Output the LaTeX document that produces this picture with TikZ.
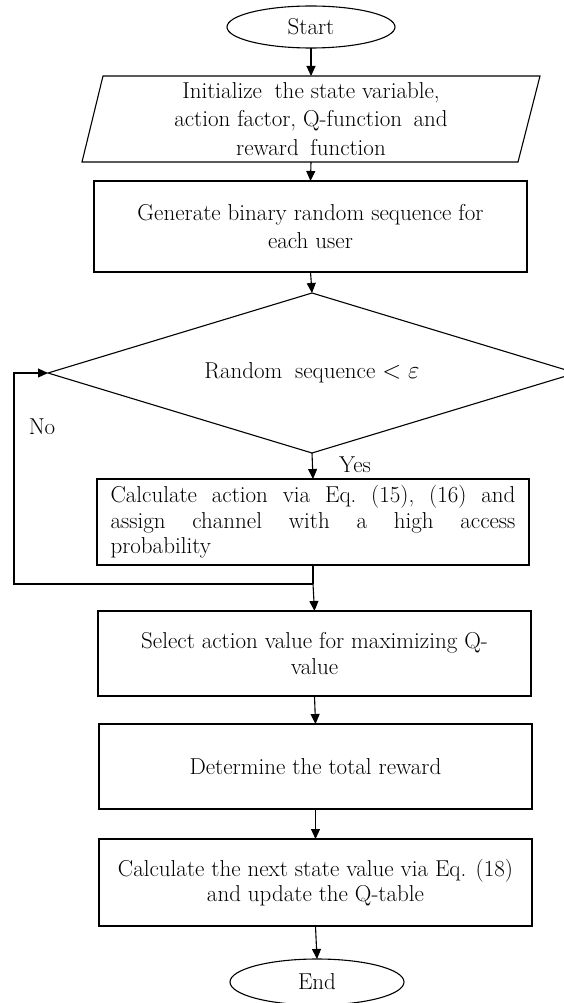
\documentclass[tikz,border=0pt]{standalone}
\usepackage{fontspec}
\usetikzlibrary{shapes.geometric,arrows.meta}
\newcommand\myfs{\fontsize{23}{25.5}\selectfont}
\newcommand\myfsw{\fontsize{23}{28.5}\selectfont}
\tikzset{
  ln/.style={line width=1.1pt},
  arr/.style={ln,-{Triangle[length=10pt,width=9pt]}},
  box/.style={draw,ln,rectangle,inner sep=0pt,outer sep=0pt,align=center,font=\myfs},
  term/.style={draw,ln,ellipse,inner sep=0pt,outer sep=0pt,font=\myfs},
  lbl/.style={inner sep=0pt,font=\myfs},
}
\begin{document}
\begin{tikzpicture}[x=1pt,y=-1pt]
\useasboundingbox (0,0) rectangle (564,1003);
\clip (0,0) rectangle (564,1003);
% terminals
\node[term,minimum width=168pt,minimum height=42pt] (start) at (311,27) {Start};
% parallelogram (input)
\node[lbl,align=center,font=\myfsw] (init) at (311,119)
  {Initialize\hspace{0.25em} the state variable,\\action factor, Q-function\hspace{0.2em} and\\reward\hspace{0.2em} function};
\coordinate (initN) at (311,76);
\coordinate (initS) at (311,162);
\draw[ln] (103,76) -- (540,76) -- (518,162) -- (82,162) -- cycle;
% boxes
\node[box,font=\myfsw,minimum width=433pt,minimum height=91pt] (gen) at (310.5,226.5)
  {Generate binary random sequence for\\each user};
\node[draw,ln,diamond,aspect=3.3,inner sep=0pt,outer sep=0pt,minimum width=528pt,minimum height=160pt,font=\myfs] (dec) at (312,373)
  {Random\hspace{0.25em} sequence $<\varepsilon$};
\node[box,minimum width=432pt,minimum height=86pt] (calc) at (313,522)
  {\parbox{405pt}{\myfs Calculate\hfill action\hfill via\hfill Eq.\hfill (15),\hfill (16)\hfill and\\
   assign\hfill channel\hfill with\hfill a\hfill high\hfill access\\
   probability}};
\node[box,minimum width=433pt,minimum height=85pt] (sel) at (314.5,653.5)
  {Select action value for maximizing Q-\\value};
\node[box,minimum width=433pt,minimum height=85pt] (det) at (315.5,766.5)
  {Determine the total reward};
\node[box,minimum width=433pt,minimum height=87pt] (nxt) at (315.5,882.5)
  {Calculate the next state value via Eq. (18)\\and update the Q-table};
\node[term,minimum width=174pt,minimum height=46pt] (end) at (317,982) {End};
% labels
\node[lbl] (yes) at (355,465) {Yes};
\node[lbl] (no) at (42,427) {No};
% connectors
\coordinate (jn) at (313,584);
\coordinate (lc) at (14,584);
\draw[arr] (start.south) -- (initN);
\draw[arr] (initS) -- (gen.north);
\draw[arr] (gen.south) -- (dec.north);
\draw[arr] (dec.south) -- (calc.north);
\draw[ln] (calc.south) -- (jn);
\draw[arr] (jn) -- (sel.north);
\draw[arr] (jn) -- (lc) |- (dec.west);
\draw[arr] (sel.south) -- (det.north);
\draw[arr] (det.south) -- (nxt.north);
\draw[arr] (nxt.south) -- (end.north);
\end{tikzpicture}
\end{document}
